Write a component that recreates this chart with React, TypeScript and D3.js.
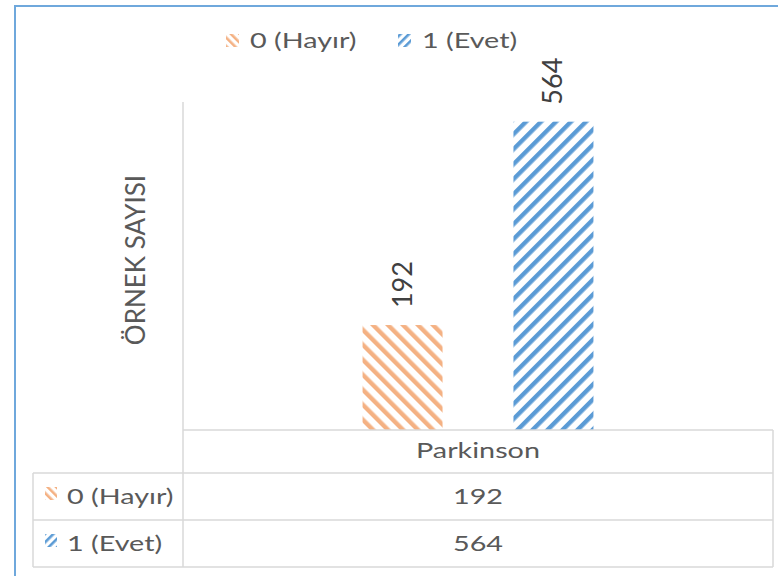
import React from "react";
import * as d3 from "d3";

const categories = ["Parkinson"];
const seriesNames = ["0 (Hayır)", "1 (Evet)"];
const seriesValues = [[192], [564]];
const seriesColors = ["#F4B183", "#5B9BD5"];
const yAxisTitle = "ÖRNEK SAYISI";
const yDomainMax = 600;

const W = 778;
const H = 576;
const plotLeft = 183;
const plotRight = 773;
const plotTop = 102;
const plotBottom = 430;
const tableLeft = 33;
const rowLines = [430, 473, 520, 567];
const font = "Lato, 'Open Sans', sans-serif";
const textColor = "#595959";
const gridColor = "#D9D9D9";
const SX = 1.37;

function HText(props: { x: number; y: number; anchor?: string; children: React.ReactNode; fill?: string }) {
  return (
    <text
      transform={`translate(${props.x}, ${props.y}) scale(${SX}, 1)`}
      textAnchor={props.anchor || "start"}
      fontSize={21}
      fill={props.fill || textColor}
    >
      {props.children}
    </text>
  );
}

export default function App() {
  const x0 = d3.scaleBand().domain(categories).range([plotLeft, plotRight]);
  const x1 = d3
    .scaleBand()
    .domain(seriesNames)
    .range([0, x0.bandwidth()])
    .paddingInner(0.47)
    .paddingOuter(1.19);
  const y = d3.scaleLinear().domain([0, yDomainMax]).range([plotBottom, plotTop]);

  const patternRot = [-45, 45];
  const legendX = [226, 398];

  return (
    <svg
      width={W}
      height={H}
      style={{ position: "absolute", left: 0, top: 0, background: "#fff" }}
      fontFamily={font}
    >
      <defs>
        {seriesNames.map((s, i) => (
          <pattern
            key={s}
            id={`hatch${i}`}
            patternUnits="userSpaceOnUse"
            width={10.6}
            height={10.6}
            patternTransform={`rotate(${patternRot[i]})`}
          >
            <rect x={0} y={0} width={4.4} height={10.6} fill={seriesColors[i]} />
          </pattern>
        ))}
        {seriesNames.map((s, i) => (
          <pattern
            key={"s" + s}
            id={`hatchS${i}`}
            patternUnits="userSpaceOnUse"
            width={6}
            height={6}
            patternTransform={`rotate(${patternRot[i]})`}
          >
            <rect x={0} y={0} width={2.6} height={6} fill={seriesColors[i]} />
          </pattern>
        ))}
      </defs>
      {/* outer chart border */}
      <rect x={15} y={6} width={W} height={H} fill="#fff" stroke="#6FA8DC" strokeWidth={2} />

      {/* legend */}
      {seriesNames.map((s, i) => (
        <g key={s}>
          <rect x={legendX[i]} y={34} width={13} height={13} fill={`url(#hatchS${i})`} />
          <HText x={legendX[i] + 24} y={48}>
            {s}
          </HText>
        </g>
      ))}

      {/* y axis title */}
      <text
        transform={`translate(145, 260) rotate(-90)`}
        textAnchor="middle"
        fontSize={26}
        fill={textColor}
      >
        {yAxisTitle}
      </text>

      {/* y axis line */}
      <line x1={plotLeft} x2={plotLeft} y1={plotTop} y2={rowLines[3]} stroke={gridColor} strokeWidth={1.5} />

      {/* bars */}
      {categories.map((c, ci) =>
        seriesNames.map((s, si) => {
          const v = seriesValues[si][ci];
          const bx = (x0(c) ?? 0) + (x1(s) ?? 0);
          const bw = x1.bandwidth();
          return (
            <g key={c + s}>
              <rect x={bx} y={y(v)} width={bw} height={plotBottom - y(v)} fill={`url(#hatch${si})`} />
              <text
                transform={`translate(${bx + bw / 2 + 9}, ${y(v) - 17}) rotate(-90)`}
                fontSize={27}
                fill="#404040"
              >
                {v}
              </text>
            </g>
          );
        })
      )}

      {/* data table */}
      <line x1={plotLeft} x2={plotRight} y1={rowLines[0]} y2={rowLines[0]} stroke={gridColor} strokeWidth={1.5} />
      {rowLines.slice(1).map((ry) => (
        <line key={ry} x1={tableLeft} x2={plotRight} y1={ry} y2={ry} stroke={gridColor} strokeWidth={1.5} />
      ))}
      <line x1={tableLeft} x2={tableLeft} y1={rowLines[1]} y2={rowLines[3]} stroke={gridColor} strokeWidth={1.5} />
      <line x1={plotRight} x2={plotRight} y1={rowLines[0]} y2={rowLines[3]} stroke={gridColor} strokeWidth={1.5} />

      {categories.map((c) => (
        <HText key={c} x={(x0(c) ?? 0) + x0.bandwidth() / 2} y={rowLines[0] + 28} anchor="middle">
          {c}
        </HText>
      ))}
      {seriesNames.map((s, i) => {
        const top = rowLines[i + 1];
        return (
          <g key={"row" + s}>
            <rect x={45} y={top + 14} width={12} height={13} fill={`url(#hatchS${i})`} />
            <HText x={67} y={top + 31}>
              {s}
            </HText>
            {categories.map((c, ci) => (
              <HText key={c} x={(x0(c) ?? 0) + x0.bandwidth() / 2} y={top + 31} anchor="middle">
                {seriesValues[i][ci]}
              </HText>
            ))}
          </g>
        );
      })}
    </svg>
  );
}
